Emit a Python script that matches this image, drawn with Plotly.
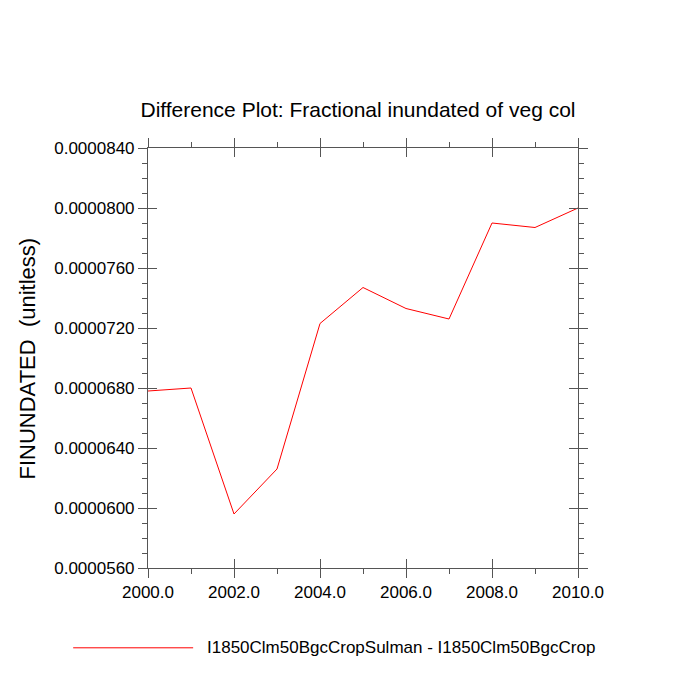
import plotly.graph_objects as go

years = [2000, 2001, 2002, 2003, 2004, 2005, 2006, 2007, 2008, 2009, 2010]
diff = [0.0000678, 0.0000680, 0.0000596, 0.0000626, 0.0000723, 0.0000747,
        0.0000733, 0.0000726, 0.0000790, 0.0000787, 0.0000800]
series_name = "I1850Clm50BgcCropSulman - I1850Clm50BgcCrop"

fnt = dict(family="Liberation Sans, Arial", size=17, color="black")
yr = [0.000056, 0.000084]
xr = [2000, 2010]
ytv = [0.000056 + i * 0.000004 for i in range(8)]
ytt = ["%.7f" % v for v in ytv]
xtv = [2000, 2002, 2004, 2006, 2008, 2010]
xtt = ["%.1f" % v for v in xtv]

fig = go.Figure()
fig.add_trace(go.Scatter(x=years, y=diff, mode="lines", line=dict(color="red", width=1),
                         showlegend=False))
fig.add_trace(go.Scatter(x=[years[0]], y=[diff[0]], mode="markers", opacity=0,
                         xaxis="x2", yaxis="y2", showlegend=False, hoverinfo="skip"))

ax = dict(showgrid=False, zeroline=False, linecolor="#555", linewidth=1, mirror="ticks",
          ticks="outside", ticklen=9, tickcolor="#555", tickfont=fnt)
fig.update_layout(
    width=700, height=700, paper_bgcolor="white", plot_bgcolor="white",
    margin=dict(l=140, r=130, t=140, b=140, autoexpand=False),
    title=dict(text="Difference Plot: Fractional inundated of veg col", x=0.5, y=0.855,
               xanchor="center", yanchor="middle",
               font=dict(family="Liberation Sans, Arial", size=21, color="black")),
    xaxis=dict(ax, range=xr, tickvals=xtv, ticktext=xtt,
               minor=dict(ticks="outside", ticklen=5, dtick=1, tickcolor="#555")),
    yaxis=dict(ax, range=yr, tickvals=ytv, ticktext=ytt,
               minor=dict(ticks="outside", ticklen=5, dtick=0.000001, tick0=0.000056, tickcolor="#555")),
    xaxis2=dict(ax, range=xr, tickvals=xtv, ticks="inside", overlaying="x",
                showticklabels=False),
    yaxis2=dict(ax, range=yr, tickvals=ytv, ticks="inside", overlaying="y",
                showticklabels=False),
)
fig.add_annotation(text="FINUNDATED  (unitless)", xref="paper", yref="paper",
                   x=-0.314, y=0.5, textangle=-90, showarrow=False,
                   font=dict(family="Liberation Sans, Arial", size=22, color="black"))
fig.add_shape(type="line", xref="paper", yref="paper", x0=-0.174, x1=0.105,
              y0=-0.19, y1=-0.19, line=dict(color="red", width=1))
fig.add_annotation(text=series_name, xref="paper", yref="paper", x=0.133, y=-0.19,
                   xanchor="left", yanchor="middle", showarrow=False, font=fnt)
fig.write_html("out.html")
